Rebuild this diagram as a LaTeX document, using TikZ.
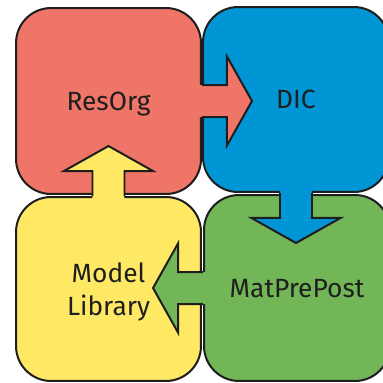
\documentclass[tikz,border=0pt]{standalone}
\usepackage{fontspec}
\setmainfont{Fira Sans}
\definecolor{redc}{HTML}{EE7567}
\definecolor{bluec}{HTML}{0096D6}
\definecolor{greenc}{HTML}{72B657}
\definecolor{yellowc}{HTML}{FFE964}
\definecolor{ink}{HTML}{1E1E1E}
\tikzset{
  box/.style={draw=ink, line width=0.04cm, rounded corners=0.7cm, inner sep=0pt,
    text=ink, font=\fontsize{15}{17.6}\selectfont, align=center},
  boxtext/.style={text=ink, font=\fontsize{15}{17.6}\selectfont, align=center, inner sep=0pt},
  pics/blockarrow/.style={code={
    \fill[#1] (-4,-16) -- (25,-16) -- (25,-44.5) -- (50,0) -- (25,44.5) -- (25,16) -- (-4,16) -- cycle;
    \draw[draw=ink, line width=0.04cm, line join=miter] (0,-16) -- (25,-16) -- (25,-44.5) -- (50,0) -- (25,44.5) -- (25,16) -- (0,16);
  }}
}
\begin{document}
\begin{tikzpicture}[x=0.02cm, y=-0.02cm]
\useasboundingbox (0,0) rectangle (383,383);
\clip (0,0) rectangle (383,383);
\node[box, fill=redc, minimum width=3.7cm, minimum height=3.72cm, text depth=0pt] (red) at (108.5,101) {ResOrg};
\node[box, fill=bluec, minimum width=3.72cm, minimum height=3.7cm, text depth=0pt] (blue) at (296,99.5) {DIC};
\node[box, fill=greenc, minimum width=3.72cm, minimum height=3.72cm, text depth=0pt] (green) at (297,288) {MatPrePost};
\node[box, fill=yellowc, minimum width=3.7cm, minimum height=3.68cm,
  label={[boxtext, yshift=-0.065cm]center:Model\\[1pt]Library}] (yellow) at (108.5,289) {};
\pic at (red.east) {blockarrow=redc};
\pic[rotate=-90] at (blue.south) {blockarrow=bluec};
\pic[rotate=180] at (green.west) {blockarrow=greenc};
\pic[rotate=90] at (yellow.north) {blockarrow=yellowc};
\end{tikzpicture}
\end{document}
